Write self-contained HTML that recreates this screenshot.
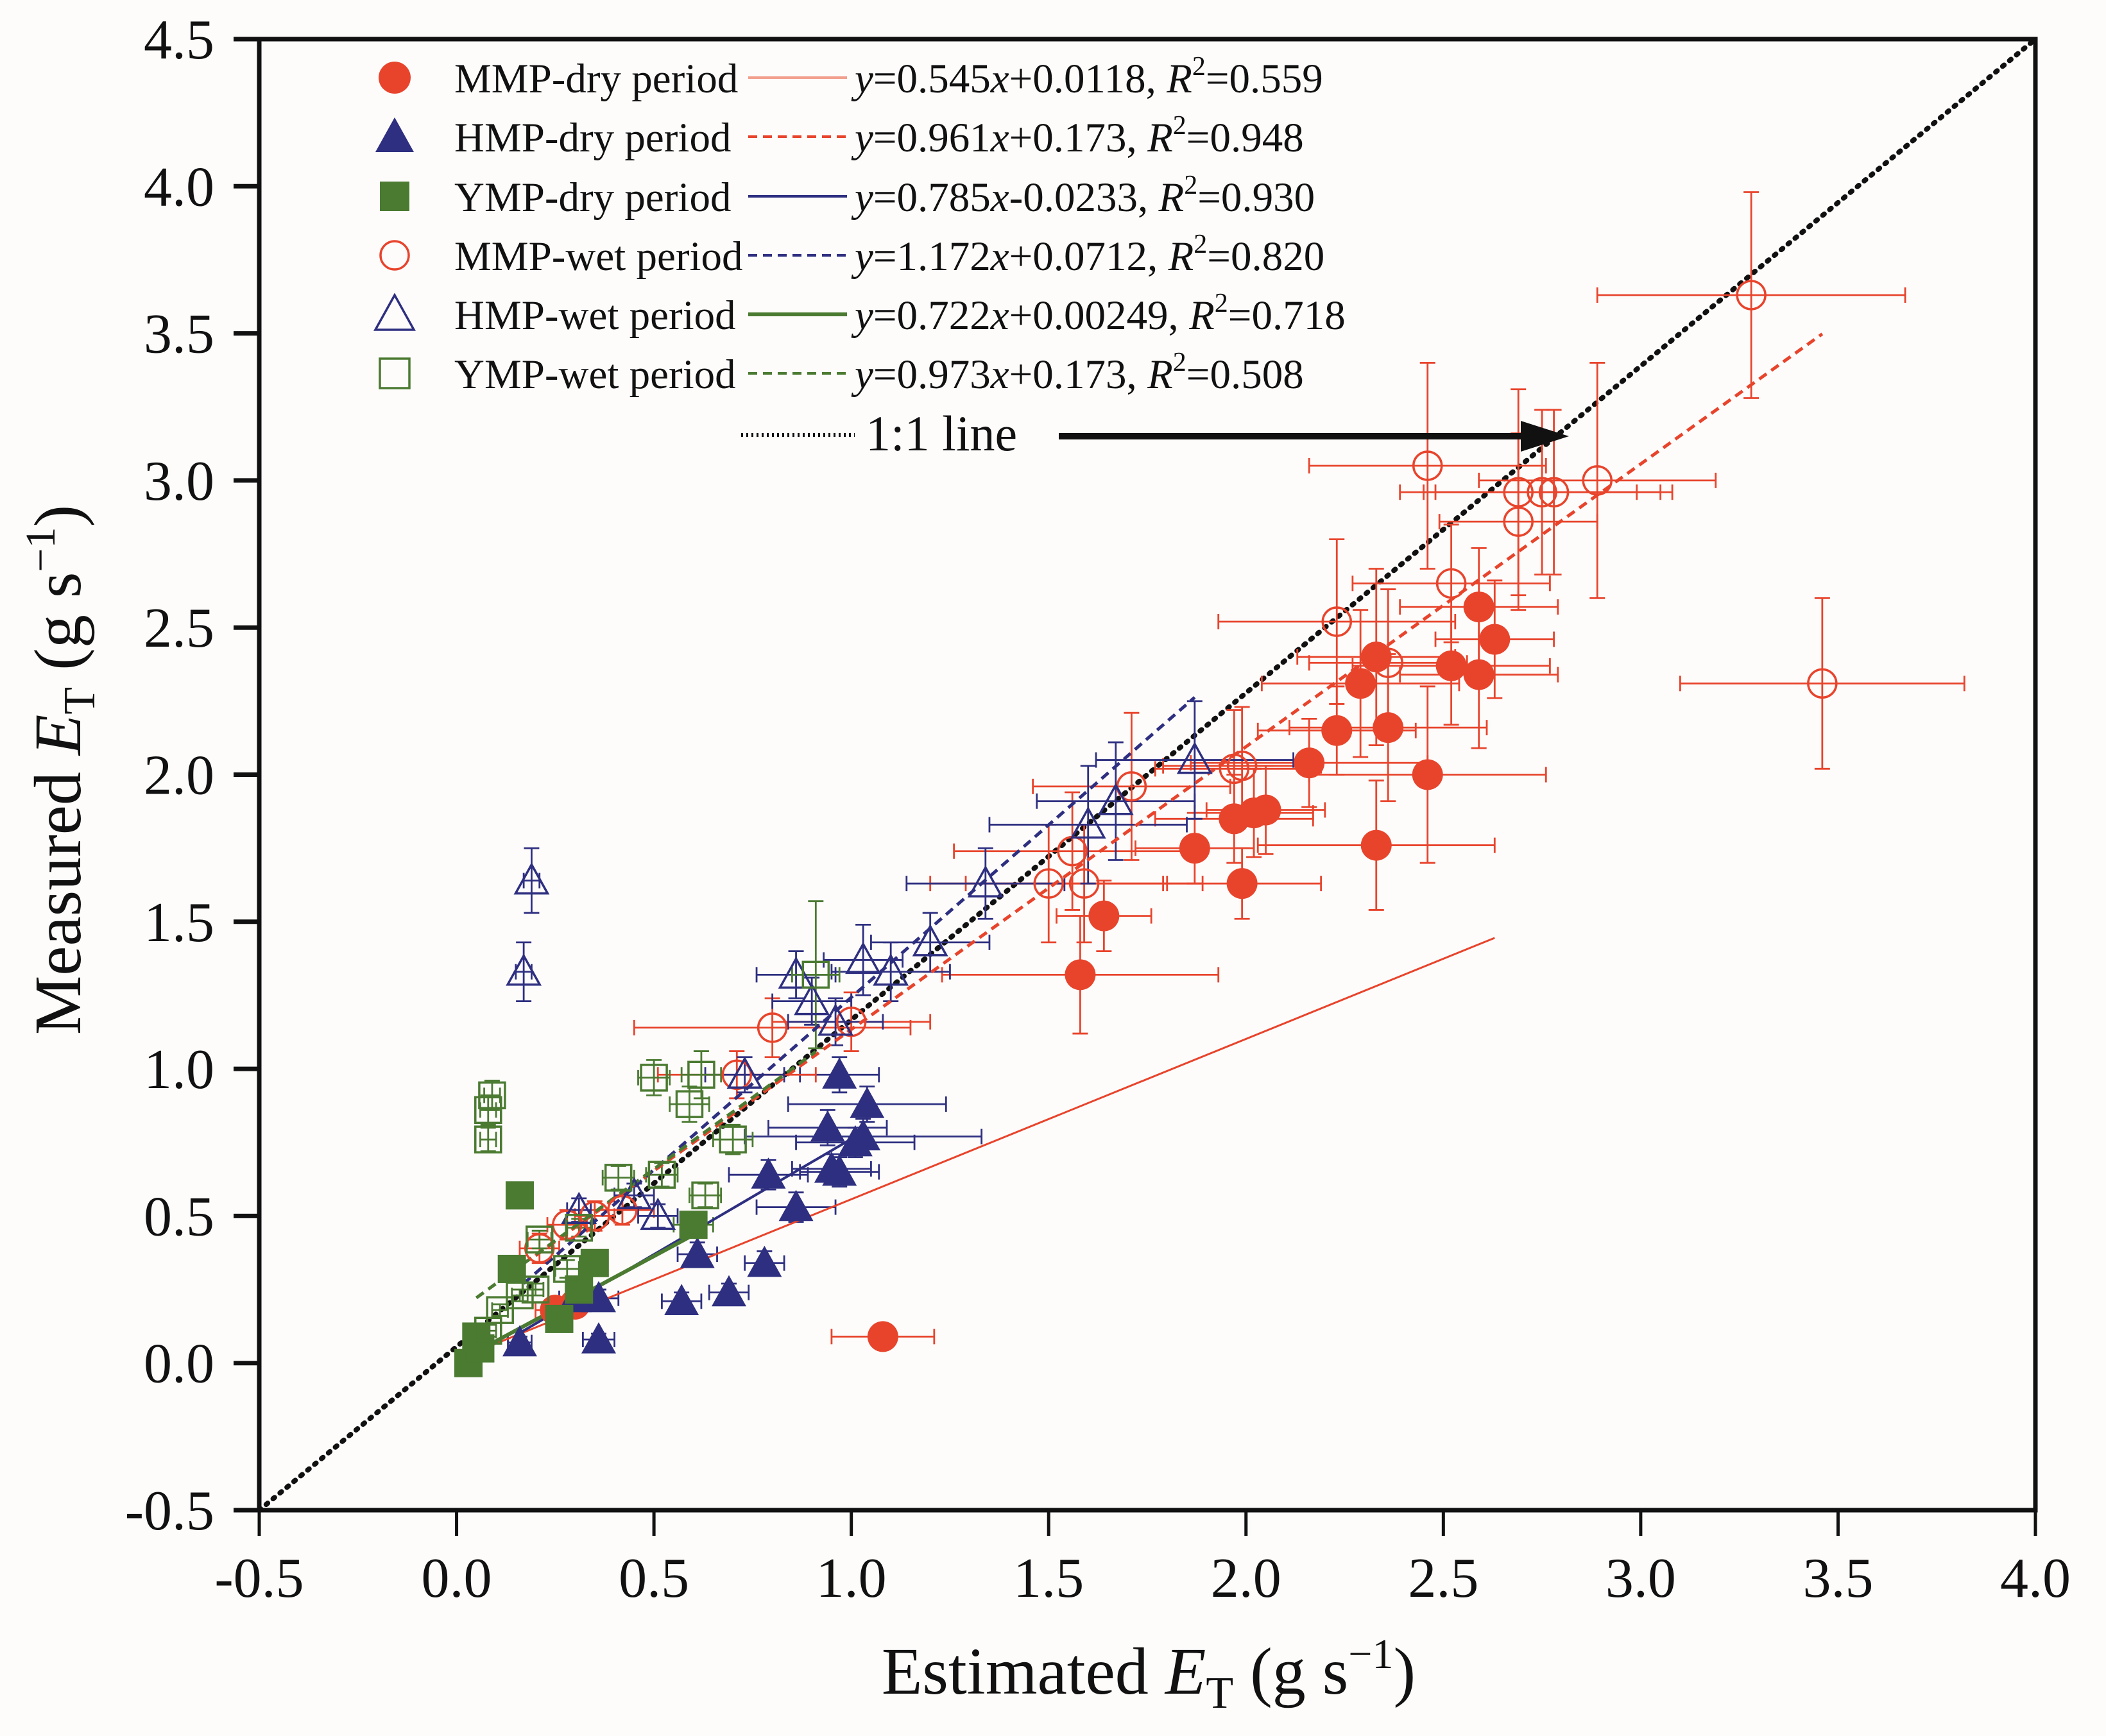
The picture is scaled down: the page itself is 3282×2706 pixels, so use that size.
<!DOCTYPE html>
<html><head><meta charset="utf-8">
<style>
html,body{margin:0;padding:0;background:#fdfcfb;}
svg{display:block;font-family:"Liberation Serif",serif;}
</style></head>
<body>
<svg id="chart" width="3282" height="2706" viewBox="0 0 3282 2706" xmlns="http://www.w3.org/2000/svg">
<rect x="0" y="0" width="3282" height="2706" fill="#fdfcfb"/>
<g id="marks"></g>
<g id="axes"></g>
<g id="legend"></g>
</svg>
<script>
// ---- data ----
const xTicks = [-0.5,0.0,0.5,1.0,1.5,2.0,2.5,3.0,3.5,4.0];
const yTicks = [-0.5,0.0,0.5,1.0,1.5,2.0,2.5,3.0,3.5,4.0,4.5];

const mmpDryX = [1.08,1.58,1.64,1.87,1.99,1.97,2.02,2.05,2.16,2.23,2.29,2.33,2.36,2.33,2.46,2.52,2.59,2.59,2.63,0.25,0.30];
const mmpDryY = [0.09,1.32,1.52,1.75,1.63,1.85,1.87,1.88,2.04,2.15,2.31,2.40,2.16,1.76,2.00,2.37,2.34,2.57,2.46,0.18,0.20];
const mmpDryXe = [0.13,0.35,0.12,0.15,0.2,0.2,0.15,0.15,0.3,0.2,0.25,0.2,0.25,0.3,0.3,0.25,0.2,0.2,0.15,0.05,0.05];
const mmpDryYe = [0.02,0.2,0.12,0.12,0.12,0.15,0.15,0.15,0.15,0.15,0.25,0.3,0.25,0.22,0.3,0.2,0.25,0.2,0.2,0.03,0.03];

const hmpDryX = [0.16,0.36,0.36,0.57,0.69,0.61,0.78,0.79,0.86,0.94,0.95,0.97,0.97,1.03,1.04,1.01,0.30];
const hmpDryY = [0.07,0.08,0.22,0.21,0.24,0.37,0.34,0.64,0.53,0.80,0.66,0.98,0.65,0.77,0.88,0.75,0.22];
const hmpDryXe = [0.03,0.04,0.05,0.05,0.05,0.05,0.05,0.1,0.1,0.15,0.1,0.1,0.1,0.3,0.2,0.15,0.04];
const hmpDryYe = [0.02,0.02,0.03,0.03,0.03,0.04,0.04,0.05,0.05,0.06,0.05,0.06,0.05,0.06,0.06,0.05,0.03];

const ympDryX = [0.16,0.14,0.03,0.06,0.26,0.60,0.31,0.05,0.35];
const ympDryY = [0.57,0.32,0.00,0.05,0.15,0.47,0.25,0.09,0.34];
const ympDryXe = [0.02,0.02,0.02,0.02,0.03,0.05,0.03,0.02,0.03];
const ympDryYe = [0.02,0.02,0.02,0.02,0.02,0.04,0.03,0.02,0.03];

const mmpWetX = [3.28,3.46,2.46,2.69,2.69,2.75,2.78,2.89,2.52,2.23,2.36,1.97,1.99,1.71,1.56,1.50,1.59,1.00,0.80,0.71,0.35,0.28,0.21,0.42];
const mmpWetY = [3.63,2.31,3.05,2.96,2.86,2.96,2.96,3.00,2.65,2.52,2.38,2.02,2.03,1.96,1.74,1.63,1.63,1.16,1.14,0.98,0.50,0.47,0.39,0.52];
const mmpWetXe = [0.39,0.36,0.3,0.3,0.2,0.3,0.3,0.3,0.25,0.3,0.2,0.2,0.2,0.25,0.3,0.3,0.3,0.2,0.35,0.2,0.05,0.05,0.05,0.08];
const mmpWetYe = [0.35,0.29,0.35,0.35,0.3,0.28,0.28,0.4,0.2,0.28,0.25,0.2,0.2,0.25,0.2,0.2,0.2,0.1,0.1,0.08,0.05,0.05,0.05,0.05];

const hmpWetX = [0.19,0.17,1.87,1.67,1.60,1.34,1.20,1.10,1.03,0.86,0.90,0.73,0.96,0.51,0.31,0.45];
const hmpWetY = [1.64,1.33,2.05,1.91,1.83,1.63,1.43,1.33,1.37,1.32,1.23,0.98,1.16,0.50,0.52,0.57];
const hmpWetXe = [0.02,0.02,0.25,0.2,0.25,0.2,0.15,0.15,0.1,0.1,0.1,0.1,0.12,0.05,0.03,0.05];
const hmpWetYe = [0.11,0.1,0.2,0.2,0.2,0.12,0.1,0.1,0.12,0.08,0.08,0.06,0.08,0.04,0.04,0.04];

const ympWetX = [0.08,0.08,0.09,0.50,0.62,0.59,0.70,0.91,0.41,0.52,0.63,0.21,0.31,0.28,0.16,0.08,0.11,0.20];
const ympWetY = [0.76,0.86,0.91,0.97,0.98,0.88,0.76,1.32,0.63,0.64,0.57,0.42,0.46,0.32,0.23,0.11,0.18,0.25];
const ympWetXe = [0.02,0.02,0.02,0.04,0.05,0.05,0.05,0.06,0.04,0.04,0.04,0.03,0.03,0.03,0.02,0.02,0.02,0.02];
const ympWetYe = [0.04,0.05,0.05,0.06,0.08,0.06,0.05,0.25,0.04,0.04,0.04,0.03,0.03,0.03,0.02,0.02,0.02,0.02];

const fitSlopes = [0.545,0.961,0.785,1.172,0.722,0.973];
const fitIntercepts = [0.0118,0.173,-0.0233,0.0712,0.00249,0.173];
const fitXStart = [0.08,0.2,0.16,0.17,0.03,0.05];
const fitXEnd = [2.63,3.46,1.04,1.87,0.62,0.91];

// ---- scales ----
const L=404,R=3172,T=61,B=2354;
const X=v=>L+(v+0.5)*(R-L)/4.5;
const Y=v=>B-(v+0.5)*(B-T)/5;
const NS="http://www.w3.org/2000/svg";
function mk(tag,attrs,parent){const e=document.createElementNS(NS,tag);for(const k in attrs)e.setAttribute(k,attrs[k]);parent.appendChild(e);return e;}
const marks=document.getElementById('marks'),axes=document.getElementById('axes');

const RED="#e8442c",NAVY="#2e2f80",GREEN="#4b7a31";
const lineColors=[RED,RED,NAVY,NAVY,GREEN,GREEN];
const lineDash=["none","14,9","none","14,9","none","14,9"];
const lineW=[3,5,4,5,6,5];

function marker(shape,color,filled,cx,cy,parent,name){
  let e;
  const fill=filled?color:"none",sw=filled?0:3.5;
  if(shape==='c'){e=mk('circle',{cx:cx,cy:cy,r:filled?24:22,fill:fill,stroke:color,'stroke-width':sw},parent);}
  else if(shape==='t'){const s=filled?27:25;e=mk('polygon',{points:`${cx},${cy-s} ${cx+s},${cy+s*0.8} ${cx-s},${cy+s*0.8}`,fill:fill,stroke:color,'stroke-width':sw},parent);}
  else {const s=filled?22:20;e=mk('rect',{x:cx-s,y:cy-s,width:2*s,height:2*s,fill:fill,stroke:color,'stroke-width':sw},parent);}
  
  
  return e;
}

const one=mk('line',{x1:X(-0.5),y1:Y(-0.5),x2:X(4.0),y2:Y(4.5),stroke:"#111",'stroke-width':8,'stroke-dasharray':"3,11",'stroke-linecap':"round"},marks);



const series=[
 {x:mmpDryX,y:mmpDryY,xe:mmpDryXe,ye:mmpDryYe,shape:'c',color:RED,filled:true,id:'mmp-dry'},
 {x:hmpDryX,y:hmpDryY,xe:hmpDryXe,ye:hmpDryYe,shape:'t',color:NAVY,filled:true,id:'hmp-dry'},
 {x:ympDryX,y:ympDryY,xe:ympDryXe,ye:ympDryYe,shape:'s',color:GREEN,filled:true,id:'ymp-dry'},
 {x:mmpWetX,y:mmpWetY,xe:mmpWetXe,ye:mmpWetYe,shape:'c',color:RED,filled:false,id:'mmp-wet'},
 {x:hmpWetX,y:hmpWetY,xe:hmpWetXe,ye:hmpWetYe,shape:'t',color:NAVY,filled:false,id:'hmp-wet'},
 {x:ympWetX,y:ympWetY,xe:ympWetXe,ye:ympWetYe,shape:'s',color:GREEN,filled:false,id:'ymp-wet'}
];
series.forEach(s=>{
  const g=mk('g',{},marks);
  
  
  for(let i=0;i<s.x.length;i++){
    const cx=X(s.x[i]),cy=Y(s.y[i]);
    const x1=X(s.x[i]-s.xe[i]),x2=X(s.x[i]+s.xe[i]),y1=Y(s.y[i]-s.ye[i]),y2=Y(s.y[i]+s.ye[i]);
    mk('path',{d:`M${x1},${cy}H${x2}M${x1},${cy-12}V${cy+12}M${x2},${cy-12}V${cy+12}M${cx},${y1}V${y2}M${cx-12},${y1}H${cx+12}M${cx-12},${y2}H${cx+12}`,stroke:s.color,'stroke-width':2.8,fill:'none'},g);
  }
});
for(let k=0;k<6;k++){
  const l=mk('line',{x1:X(fitXStart[k]),y1:Y(fitSlopes[k]*fitXStart[k]+fitIntercepts[k]),x2:X(fitXEnd[k]),y2:Y(fitSlopes[k]*fitXEnd[k]+fitIntercepts[k]),stroke:lineColors[k],'stroke-width':lineW[k],'stroke-dasharray':lineDash[k]},marks);
  
  
}
series.forEach(s=>{
  for(let i=0;i<s.x.length;i++) marker(s.shape,s.color,s.filled,X(s.x[i]),Y(s.y[i]),marks,s.id+'-point');
});

const frame=mk('rect',{x:L,y:T,width:R-L,height:B-T,fill:'none',stroke:'#111','stroke-width':7},axes);


xTicks.forEach(v=>{
  const t=mk('line',{x1:X(v),y1:B,x2:X(v),y2:B+40,stroke:'#111','stroke-width':5},axes);
  
  
  const tx=mk('text',{x:X(v),y:B+135,'font-size':88,'text-anchor':'middle',fill:'#111'},axes);
  tx.textContent=v.toFixed(1);
  
  
});
yTicks.forEach(v=>{
  const t=mk('line',{x1:L-40,y1:Y(v),x2:L,y2:Y(v),stroke:'#111','stroke-width':7},axes);
  
  
  const tx=mk('text',{x:L-70,y:Y(v)+30,'font-size':88,'text-anchor':'end',fill:'#111'},axes);
  tx.textContent=v.toFixed(1);
  
  
});
</script>
<script>
(function(){
const svg=document.getElementById('chart');
svg.insertAdjacentHTML('beforeend',`
<text x="1790" y="2640" font-size="104" text-anchor="middle" fill="#111">Estimated <tspan font-style="italic">E</tspan><tspan font-size="70" dy="22">T</tspan><tspan dy="-22"> (g s</tspan><tspan font-size="66" dy="-40">−1</tspan><tspan dy="40">)</tspan></text>
<text transform="translate(125,1200) rotate(-90)" font-size="104" text-anchor="middle" fill="#111">Measured <tspan font-style="italic">E</tspan><tspan font-size="70" dy="22">T</tspan><tspan dy="-22"> (g s</tspan><tspan font-size="66" dy="-40">−1</tspan><tspan dy="40">)</tspan></text>
<g>
<line x1="1650" y1="680" x2="2380" y2="680" stroke="#111" stroke-width="10"/>
<polygon points="2445,680 2370,656 2370,704" fill="#111"/>
</g>
`);
const lg=document.getElementById('legend');
const rows=[121,213,306,398,490,582];
const cols=["#e8442c","#2e2f80","#4b7a31","#e8442c","#2e2f80","#4b7a31"];
const shapes=['c','t','s','c','t','s'];
const filled=[1,1,1,0,0,0];
const lc=["#f2a08e","#e8442c","#2e2f80","#2e2f80","#4b7a31","#4b7a31"];
const ld=["none","14,9","none","14,9","none","14,9"];
const names=["MMP-dry period","HMP-dry period","YMP-dry period","MMP-wet period","HMP-wet period","YMP-wet period"];
const eqs=[["0.545","+0.0118","0.559"],["0.961","+0.173","0.948"],["0.785","-0.0233","0.930"],["1.172","+0.0712","0.820"],["0.722","+0.00249","0.718"],["0.973","+0.173","0.508"]];
let html='';
for(let i=0;i<6;i++){
  const y=rows[i],cx=615,c=cols[i];
  let m;
  if(shapes[i]==='c') m=`<circle cx="${cx}" cy="${y}" r="${filled[i]?25:22}" fill="${filled[i]?c:'none'}" stroke="${c}" stroke-width="${filled[i]?0:3.5}"/>`;
  else if(shapes[i]==='t') m=`<polygon points="${cx},${y-30} ${cx+30},${y+24} ${cx-30},${y+24}" fill="${filled[i]?c:'none'}" stroke="${c}" stroke-width="${filled[i]?0:3.5}"/>`;
  else m=`<rect x="${cx-23}" y="${y-23}" width="46" height="46" fill="${filled[i]?c:'none'}" stroke="${c}" stroke-width="${filled[i]?0:3.5}"/>`;
  html+=`<g>${m}
<text x="708" y="${y+23}" font-size="65" fill="#111">${names[i]}</text>
<line x1="1166" y1="${y}" x2="1320" y2="${y}" stroke="${lc[i]}" stroke-width="${i===4?6:4}" stroke-dasharray="${ld[i]}"/>
<text x="1332" y="${y+23}" font-size="65" fill="#111"><tspan font-style="italic">y</tspan>=${eqs[i][0]}<tspan font-style="italic">x</tspan>${eqs[i][1]}, <tspan font-style="italic">R</tspan><tspan font-size="42" dy="-27">2</tspan><tspan dy="27">=${eqs[i][2]}</tspan></text></g>`;
}
html+=`<g><line x1="1155" y1="678" x2="1332" y2="678" stroke="#111" stroke-width="6" stroke-dasharray="3,5"/>
<text x="1349" y="702" font-size="78" fill="#111">1:1 line</text></g>`;
lg.insertAdjacentHTML('beforeend',html);
})();
</script>
</body></html>
